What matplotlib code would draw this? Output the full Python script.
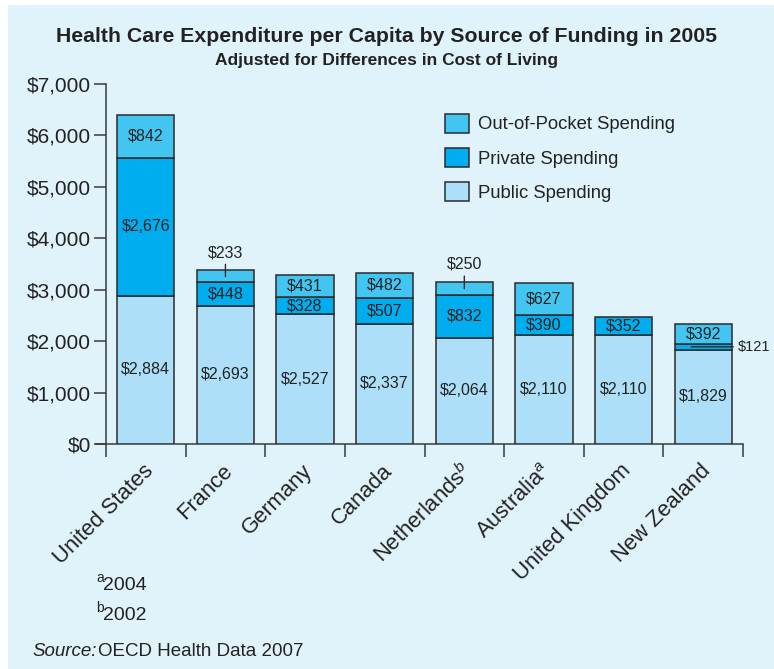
import matplotlib
matplotlib.use("Agg")
import matplotlib.pyplot as plt
from matplotlib.patches import Rectangle, Patch
import numpy as np

plt.rcParams['font.family'] = ['Liberation Sans', 'DejaVu Sans']
plt.rcParams['mathtext.fontset'] = 'custom'
plt.rcParams['mathtext.rm'] = 'Liberation Sans'
plt.rcParams['mathtext.it'] = 'Liberation Sans:italic'

countries = ["United States", "France", "Germany", "Canada",
             r"Netherlands$^{b}$", r"Australia$^{a}$", "United Kingdom", "New Zealand"]
public = [2884, 2693, 2527, 2337, 2064, 2110, 2110, 1829]
private = [2676, 448, 328, 507, 832, 390, 352, 121]
out_of_pocket = [842, 233, 431, 482, 250, 627, 0, 392]
yticks = [0, 1000, 2000, 3000, 4000, 5000, 6000, 7000]
ytick_labels = ["$0", "$1,000", "$2,000", "$3,000", "$4,000", "$5,000", "$6,000", "$7,000"]

C_PUB = "#ade0f8"
C_PRI = "#00adef"
C_OOP = "#42c6f1"
BG = "#e0f3fb"
EDGE = "#2b2b2b"
TXT = "#222222"

W, H = 774, 669
fig = plt.figure(figsize=(W / 100, H / 100), dpi=100, facecolor="white")
fig.patches.append(Rectangle((8 / W, 0), 1 - 8 / W, 1 - 5 / H, transform=fig.transFigure,
                             facecolor=BG, edgecolor="none", zorder=-10))

def fx(px):
    return px / W

def fy(py):
    return 1 - py / H

ax = fig.add_axes([fx(106), fy(444), fx(743) - fx(106), fy(84) - fy(444)])
ax.set_facecolor("none")
n = len(countries)
x = np.arange(n)
bw = 0.72
pub = np.array(public)
pri = np.array(private)
oop = np.array(out_of_pocket)

ax.bar(x, pub, bw, color=C_PUB, edgecolor=EDGE, linewidth=1.1, zorder=3)
ax.bar(x, pri, bw, bottom=pub, color=C_PRI, edgecolor=EDGE, linewidth=1.1, zorder=3)
mask = oop > 0
ax.bar(x[mask], oop[mask], bw, bottom=(pub + pri)[mask], color=C_OOP, edgecolor=EDGE,
       linewidth=1.1, zorder=3)

ax.set_xlim(-0.5, n - 0.5)
ax.set_ylim(0, 7000)

def fmt(v):
    return "${:,}".format(v)

fs_val = 11.5
for i in range(n):
    ax.text(x[i], pub[i] / 2, fmt(public[i]), ha="center", va="center", fontsize=fs_val,
            color=TXT, zorder=5)
    if pri[i] >= 300:
        ax.text(x[i], pub[i] + pri[i] / 2, fmt(private[i]), ha="center", va="center",
                fontsize=fs_val, color=TXT, zorder=5)
    else:
        yc = pub[i] + pri[i] / 2
        ax.annotate(fmt(private[i]), xy=(x[i] - 0.15, yc), xytext=(x[i] + 0.43, yc),
                    ha="left", va="center", fontsize=10.5, color=TXT, zorder=5,
                    annotation_clip=False,
                    arrowprops=dict(arrowstyle="-", color=EDGE, lw=1.0,
                                    shrinkA=1, shrinkB=0))
    if oop[i] >= 300:
        ax.text(x[i], pub[i] + pri[i] + oop[i] / 2, fmt(out_of_pocket[i]), ha="center",
                va="center", fontsize=fs_val, color=TXT, zorder=5)
    elif oop[i] > 0:
        yc = pub[i] + pri[i] + oop[i] / 2
        ytop = pub[i] + pri[i] + oop[i]
        ax.annotate(fmt(out_of_pocket[i]), xy=(x[i], yc), xytext=(x[i], ytop + 200),
                    ha="center", va="bottom", fontsize=fs_val, color=TXT, zorder=5,
                    arrowprops=dict(arrowstyle="-", color=EDGE, lw=1.0,
                                    shrinkA=1, shrinkB=0))

for s in ["top", "right"]:
    ax.spines[s].set_visible(False)
for s in ["left", "bottom"]:
    ax.spines[s].set_color("#3a3a3a")
    ax.spines[s].set_linewidth(1.1)
ax.spines["bottom"].set_bounds(-0.5 - 0.12, n - 0.5)
ax.set_yticks(yticks)
ax.set_yticklabels(ytick_labels, fontsize=15, color=TXT)
ax.tick_params(axis="y", length=9, width=1.1, color="#3a3a3a", pad=2)
ax.set_xticks(np.arange(n + 1) - 0.5, minor=False)
ax.set_xticklabels([""] * (n + 1))
ax.tick_params(axis="x", length=9, width=1.1, color="#3a3a3a", direction="out")

for i, lab in enumerate(countries):
    ax.annotate(lab, xy=(x[i], 0), xytext=(3, -17), textcoords="offset points",
                rotation=45, ha="right", va="center", rotation_mode="anchor",
                fontsize=15.8, color=TXT, annotation_clip=False)

handles = [Patch(facecolor=C_OOP, edgecolor=EDGE, linewidth=1.1, label="Out-of-Pocket Spending"),
           Patch(facecolor=C_PRI, edgecolor=EDGE, linewidth=1.1, label="Private Spending"),
           Patch(facecolor=C_PUB, edgecolor=EDGE, linewidth=1.1, label="Public Spending")]
leg = fig.legend(handles=handles, loc="upper left", bbox_to_anchor=(fx(430), fy(99)),
                 bbox_transform=fig.transFigure, frameon=False, fontsize=13.3,
                 handlelength=1.3, handleheight=1.2, labelspacing=0.78,
                 handletextpad=0.5, borderpad=0.3)
for t in leg.get_texts():
    t.set_color(TXT)

fig.text(fx(387), fy(37), "Health Care Expenditure per Capita by Source of Funding in 2005",
         ha="center", va="center", fontsize=15.3, fontweight="bold", color=TXT)
fig.text(fx(387), fy(61), "Adjusted for Differences in Cost of Living",
         ha="center", va="center", fontsize=12.5, fontweight="bold", color=TXT)

fig.text(fx(96), fy(578), "a", ha="left", va="center", fontsize=10, color=TXT)
fig.text(fx(103), fy(585), "2004", ha="left", va="center", fontsize=14, color=TXT)
fig.text(fx(96), fy(608), "b", ha="left", va="center", fontsize=10, color=TXT)
fig.text(fx(103), fy(615), "2002", ha="left", va="center", fontsize=14, color=TXT)
fig.text(fx(32), fy(652), "Source:", ha="left", va="center", fontsize=13.5, style="italic",
         color=TXT)
fig.text(fx(98), fy(652), "OECD Health Data 2007", ha="left", va="center", fontsize=13.5,
         color=TXT)

fig.savefig("out.png", dpi=100, facecolor="white")
